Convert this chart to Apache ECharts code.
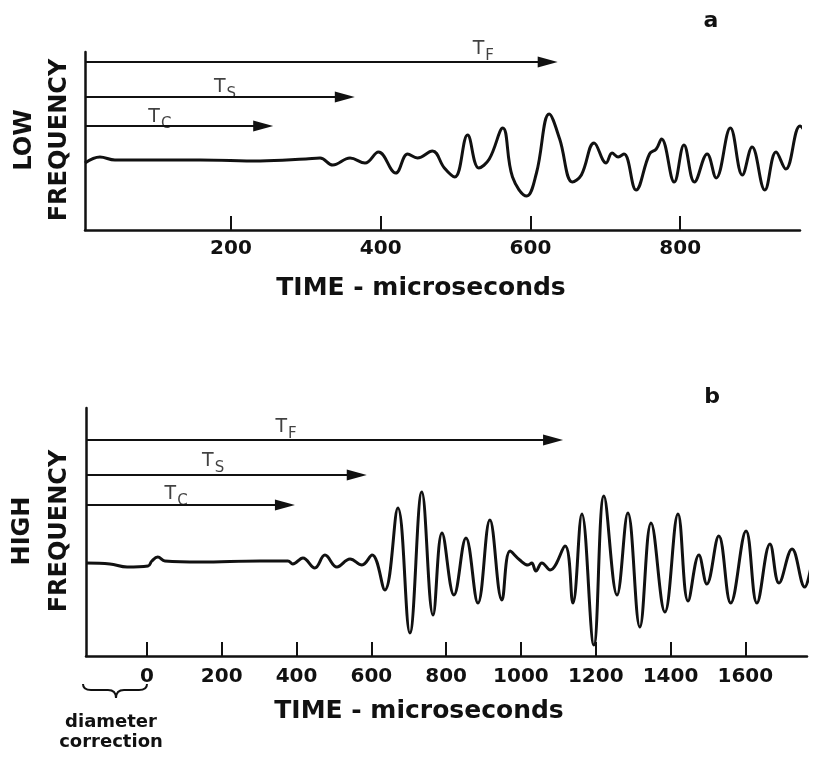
<!DOCTYPE html>
<html>
<head>
<meta charset="utf-8">
<script src="https://cdn.jsdelivr.net/npm/echarts@6/dist/echarts.min.js"></script>
<style>
html,body{margin:0;padding:0;background:#fff;}
#chart{width:814px;height:762px;}
</style>
</head>
<body>
<div id="chart"></div>
<script>
// ---- Panel a : LOW FREQUENCY ----
const lowTime = [5, 25, 45, 100, 159, 239, 300, 319, 336, 359, 379, 397, 420, 436, 449, 469, 485, 499, 516, 531, 545, 563, 576, 595, 608, 625, 639, 656, 668, 685, 701, 709, 717, 725, 741, 759, 768, 775, 792, 805, 819, 836, 848, 867, 883, 896, 913, 928, 941, 960, 968];
const lowAmp  = [67, 73, 70, 70, 70, 69, 71, 72, 65, 72, 67, 78, 57, 76, 72, 79, 62, 53, 95, 62, 71, 102, 53, 34, 57, 116, 91, 48, 55, 87, 67, 77, 73, 76, 40, 76, 81, 91, 48, 85, 48, 76, 52, 102, 55, 83, 40, 78, 61, 104, 97];
const lowTicks = [200, 400, 600, 800];
const lowArrowEnd = [623, 352, 243];
const lowArrowLevel = [168, 133, 104];
const lowLabelTime = [537, 192, 105];
const lowLabelLevel = [180, 142, 112];

// ---- Panel b : HIGH FREQUENCY ----
const highTime = [-163, -99, -53, 3, 13, 29, 48, 142, 302, 377, 390, 417, 449, 476, 508, 543, 575, 602, 636, 671, 703, 735, 765, 789, 821, 853, 885, 917, 949, 971, 997, 1019, 1029, 1040, 1056, 1078, 1118, 1139, 1163, 1195, 1222, 1257, 1286, 1318, 1348, 1385, 1420, 1447, 1476, 1497, 1529, 1561, 1602, 1631, 1666, 1690, 1725, 1759, 1775];
const highAmp  = [93, 92, 89, 90, 95, 99, 95, 94, 95, 95, 92, 98, 88, 101, 89, 97, 91, 101, 66, 148, 23, 164, 41, 123, 61, 118, 53, 136, 56, 105, 96, 91, 93, 85, 93, 86, 110, 53, 142, 11, 160, 61, 143, 29, 133, 44, 142, 55, 101, 72, 120, 53, 125, 53, 112, 73, 107, 69, 88];
const highTicks = [0, 200, 400, 600, 800, 1000, 1200, 1400, 1600];
const highArrowEnd = [1086, 561, 369];
const highArrowLevel = [216, 181, 151];
const highLabelTime = [372, 177, 78];
const highLabelLevel = [228, 194, 161];

const arrowSubs = ['F', 'S', 'C'];

const FONT = 'DejaVu Sans';
const INK = '#111';

function pairs(xs, ys) { return xs.map((x, i) => [x, ys[i]]); }

function arrowLines(minX, ends, levels) {
  return ends.map((e, i) => [{ coord: [minX, levels[i]] }, { coord: [e, levels[i]] }]);
}
function arrowLabels(xs, ys) {
  return xs.map((x, i) => ({ value: [x, ys[i]], sub: arrowSubs[i] }));
}

const richT = {
  t: { fontFamily: FONT, fontSize: 19, color: INK, lineHeight: 20, verticalAlign: 'top' },
  s: { fontFamily: FONT, fontSize: 15, color: INK, lineHeight: 16, padding: [9, 0, 0, 1], verticalAlign: 'top' }
};

function xAxisCfg(gridIndex, min, max, ticks, margin) {
  return {
    type: 'value', gridIndex, min, max,
    axisLine: { show: true, onZero: false, lineStyle: { color: INK, width: 2.5 } },
    axisTick: { show: true, inside: true, length: 14, customValues: ticks, lineStyle: { color: INK, width: 2 } },
    axisLabel: { show: true, customValues: ticks, margin, fontFamily: FONT, fontSize: 20, fontWeight: 'bold', color: INK, formatter: v => String(v) },
    splitLine: { show: false }
  };
}
function yAxisCfg(gridIndex, min, max) {
  return {
    type: 'value', gridIndex, min, max,
    axisLine: { show: true, onZero: false, lineStyle: { color: INK, width: 2.5 } },
    axisTick: { show: false }, axisLabel: { show: false }, splitLine: { show: false }
  };
}

const braceStyle = { stroke: INK, lineWidth: 2, fill: null };

const chart = echarts.init(document.getElementById('chart'), null, { renderer: 'canvas' });
chart.setOption({
  backgroundColor: '#fff',
  animation: false,
  grid: [
    { left: 85, top: 52, width: 715, height: 178 },
    { left: 86, top: 408, width: 721, height: 248 }
  ],
  xAxis: [xAxisCfg(0, 5, 960, lowTicks, 9), xAxisCfg(1, -163, 1765, highTicks, 11)],
  yAxis: [yAxisCfg(0, 0, 178), yAxisCfg(1, 0, 248)],
  series: [
    {
      type: 'line', xAxisIndex: 0, yAxisIndex: 0, data: pairs(lowTime, lowAmp),
      smooth: 0.4, showSymbol: false, clip: false,
      lineStyle: { color: INK, width: 3 },
      markLine: {
        silent: true, symbol: ['none', 'triangle'], symbolSize: [11, 20],
        lineStyle: { color: INK, width: 2.2, type: 'solid' }, label: { show: false },
        data: arrowLines(5, lowArrowEnd, lowArrowLevel)
      }
    },
    {
      type: 'scatter', xAxisIndex: 0, yAxisIndex: 0, symbolSize: 0, clip: false,
      data: arrowLabels(lowLabelTime, lowLabelLevel),
      label: { show: true, position: 'inside', formatter: p => '{t|T}{s|' + p.data.sub + '}', rich: richT }
    },
    {
      type: 'line', xAxisIndex: 1, yAxisIndex: 1, data: pairs(highTime, highAmp),
      smooth: 0.4, showSymbol: false, clip: false,
      lineStyle: { color: INK, width: 3 },
      markLine: {
        silent: true, symbol: ['none', 'triangle'], symbolSize: [11, 20],
        lineStyle: { color: INK, width: 2.2, type: 'solid' }, label: { show: false },
        data: arrowLines(-163, highArrowEnd, highArrowLevel)
      }
    },
    {
      type: 'scatter', xAxisIndex: 1, yAxisIndex: 1, symbolSize: 0, clip: false,
      data: arrowLabels(highLabelTime, highLabelLevel),
      label: { show: true, position: 'inside', formatter: p => '{t|T}{s|' + p.data.sub + '}', rich: richT }
    }
  ],
  graphic: [
    { type: 'text', x: 711, y: 21, style: { text: 'a', fontFamily: FONT, fontSize: 22, fontWeight: 'bold', fill: INK, align: 'center', verticalAlign: 'middle' } },
    { type: 'text', x: 712, y: 397, style: { text: 'b', fontFamily: FONT, fontSize: 22, fontWeight: 'bold', fill: INK, align: 'center', verticalAlign: 'middle' } },
    { type: 'text', x: 421, y: 288, style: { text: 'TIME - microseconds', fontFamily: FONT, fontSize: 25, fontWeight: 'bold', fill: INK, align: 'center', verticalAlign: 'middle' } },
    { type: 'text', x: 419, y: 711, style: { text: 'TIME - microseconds', fontFamily: FONT, fontSize: 25, fontWeight: 'bold', fill: INK, align: 'center', verticalAlign: 'middle' } },
    { type: 'text', x: 42, y: 140, rotation: Math.PI / 2, style: { text: 'LOW\nFREQUENCY', fontFamily: FONT, fontSize: 24, fontWeight: 'bold', lineHeight: 35, fill: INK, align: 'center', verticalAlign: 'middle' } },
    { type: 'text', x: 41, y: 531, rotation: Math.PI / 2, style: { text: 'HIGH\nFREQUENCY', fontFamily: FONT, fontSize: 24, fontWeight: 'bold', lineHeight: 37, fill: INK, align: 'center', verticalAlign: 'middle' } },
    { type: 'text', x: 111, y: 732, style: { text: 'diameter\ncorrection', fontFamily: FONT, fontSize: 18, fontWeight: 'bold', lineHeight: 20, fill: INK, align: 'center', verticalAlign: 'middle' } },
    { type: 'bezierCurve', shape: { x1: 83, y1: 684, cpx1: 83, cpy1: 690, x2: 91, y2: 690 }, style: braceStyle },
    { type: 'line', shape: { x1: 91, y1: 690, x2: 108, y2: 690 }, style: braceStyle },
    { type: 'bezierCurve', shape: { x1: 108, y1: 690, cpx1: 116, cpy1: 690, x2: 116, y2: 698 }, style: braceStyle },
    { type: 'bezierCurve', shape: { x1: 116, y1: 698, cpx1: 116, cpy1: 690, x2: 124, y2: 690 }, style: braceStyle },
    { type: 'line', shape: { x1: 124, y1: 690, x2: 139, y2: 690 }, style: braceStyle },
    { type: 'bezierCurve', shape: { x1: 139, y1: 690, cpx1: 147, cpy1: 690, x2: 147, y2: 684 }, style: braceStyle }
  ]
});
</script>
</body>
</html>
